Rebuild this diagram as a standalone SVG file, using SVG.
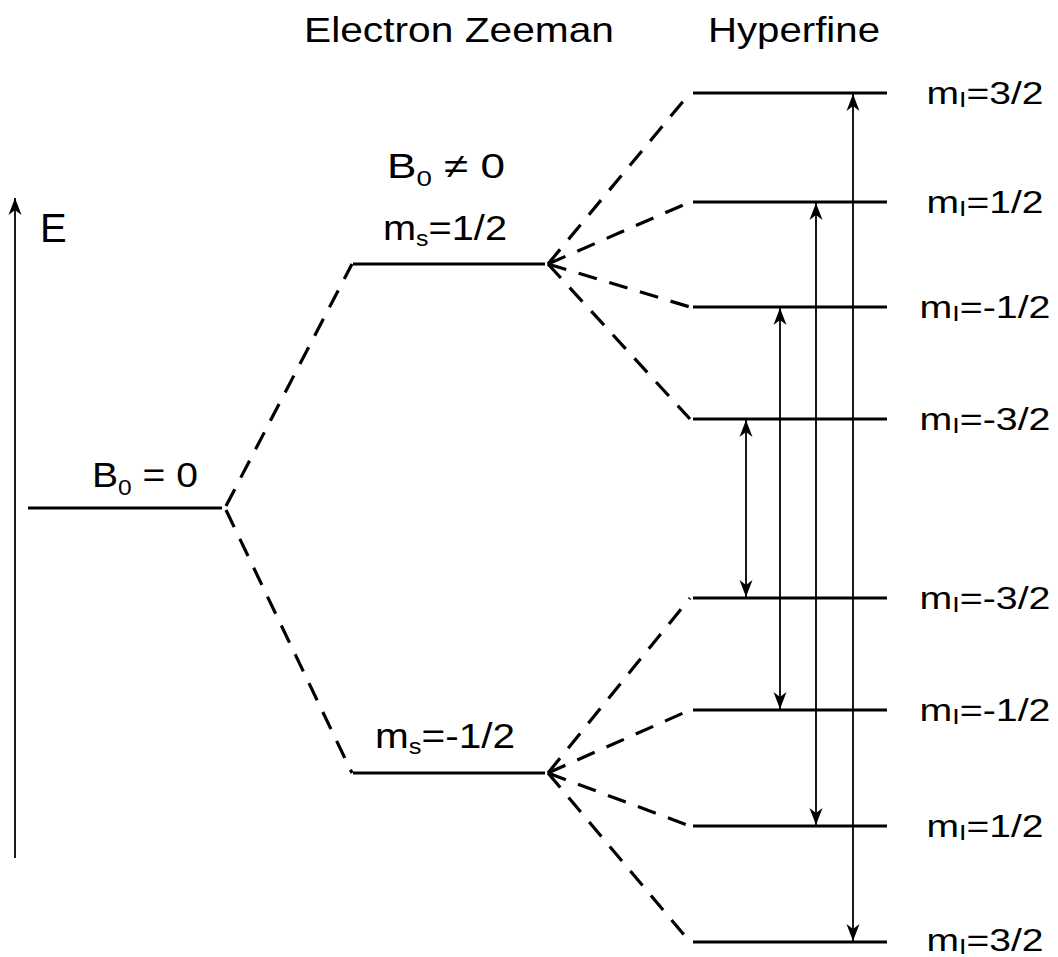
<svg xmlns="http://www.w3.org/2000/svg" width="1058" height="957" viewBox="0 0 1058 957">
<style>
text{font-family:"Liberation Sans",Arial,sans-serif;fill:#000;}
.t{font-size:35px;}
.l{font-size:32px;}
.sub{font-size:22px;}
.lvl{stroke:#000;stroke-width:3;fill:none;}
.dash{stroke:#000;stroke-width:3.2;fill:none;stroke-dasharray:19 13;}
.arr{stroke:#000;stroke-width:1.8;fill:none;}
</style>
<defs>
<marker id="ah" viewBox="-18 -8 20 16" markerWidth="20" markerHeight="16" refX="0" refY="0" orient="auto-start-reverse" markerUnits="userSpaceOnUse">
<path d="M0,0 L-17,-6.5 L-12,0 L-17,6.5 Z" fill="#000"/>
</marker>
</defs>
<rect width="1058" height="957" fill="#fff"/>

<g id="titles">
<text class="t" x="304" y="42" textLength="310" lengthAdjust="spacingAndGlyphs">Electron Zeeman</text>
<text class="t" x="708" y="42" textLength="172" lengthAdjust="spacingAndGlyphs">Hyperfine</text>
</g>

<g id="axis">
<line class="arr" x1="15" y1="858" x2="15" y2="198" marker-end="url(#ah)"/>
<text x="40" y="242" font-size="40">E</text>
</g>

<g id="b0-zero">
<line class="lvl" x1="28" y1="508" x2="222" y2="508"/>
<text class="t" x="92" y="487" textLength="106" lengthAdjust="spacingAndGlyphs">B<tspan class="sub" dy="8">0</tspan><tspan dy="-8"> = 0</tspan></text>
</g>

<g id="ms-up">
<text class="t" x="387" y="178" textLength="118" lengthAdjust="spacingAndGlyphs">B<tspan class="sub" dy="8">0</tspan><tspan dy="-8"> ≠ 0</tspan></text>
<line class="lvl" x1="353" y1="264" x2="545" y2="264"/>
<text class="t" x="383" y="240" textLength="124" lengthAdjust="spacingAndGlyphs">m<tspan class="sub" dy="6">s</tspan><tspan dy="-6">=1/2</tspan></text>
</g>

<g id="ms-down">
<line class="lvl" x1="353" y1="773" x2="545" y2="773"/>
<text class="t" x="375" y="748" textLength="140" lengthAdjust="spacingAndGlyphs">m<tspan class="sub" dy="6">s</tspan><tspan dy="-6">=-1/2</tspan></text>
</g>

<g id="hyperfine-up">
<line class="lvl" x1="693" y1="93" x2="887" y2="93"/>
<line class="lvl" x1="693" y1="202" x2="887" y2="202"/>
<line class="lvl" x1="693" y1="307" x2="887" y2="307"/>
<line class="lvl" x1="693" y1="419" x2="887" y2="419"/>
<text class="l" x="985" y="104" text-anchor="middle" textLength="117" lengthAdjust="spacingAndGlyphs">m<tspan class="sub" dy="3">I</tspan><tspan dy="-3">=3/2</tspan></text>
<text class="l" x="985" y="213" text-anchor="middle" textLength="117" lengthAdjust="spacingAndGlyphs">m<tspan class="sub" dy="3">I</tspan><tspan dy="-3">=1/2</tspan></text>
<text class="l" x="985" y="318" text-anchor="middle" textLength="131" lengthAdjust="spacingAndGlyphs">m<tspan class="sub" dy="3">I</tspan><tspan dy="-3">=-1/2</tspan></text>
<text class="l" x="985" y="430" text-anchor="middle" textLength="131" lengthAdjust="spacingAndGlyphs">m<tspan class="sub" dy="3">I</tspan><tspan dy="-3">=-3/2</tspan></text>
</g>

<g id="hyperfine-down">
<line class="lvl" x1="693" y1="598" x2="887" y2="598"/>
<line class="lvl" x1="693" y1="710" x2="887" y2="710"/>
<line class="lvl" x1="693" y1="826" x2="887" y2="826"/>
<line class="lvl" x1="693" y1="942" x2="887" y2="942"/>
<text class="l" x="985" y="609" text-anchor="middle" textLength="131" lengthAdjust="spacingAndGlyphs">m<tspan class="sub" dy="3">I</tspan><tspan dy="-3">=-3/2</tspan></text>
<text class="l" x="985" y="721" text-anchor="middle" textLength="131" lengthAdjust="spacingAndGlyphs">m<tspan class="sub" dy="3">I</tspan><tspan dy="-3">=-1/2</tspan></text>
<text class="l" x="985" y="837" text-anchor="middle" textLength="117" lengthAdjust="spacingAndGlyphs">m<tspan class="sub" dy="3">I</tspan><tspan dy="-3">=1/2</tspan></text>
<text class="l" x="985" y="951" text-anchor="middle" textLength="117" lengthAdjust="spacingAndGlyphs">m<tspan class="sub" dy="3">I</tspan><tspan dy="-3">=3/2</tspan></text>
</g>

<g id="connectors">
<line class="dash" x1="226" y1="506" x2="352" y2="264"/>
<line class="dash" x1="226" y1="510" x2="352" y2="773"/>
<line class="dash" x1="548" y1="264" x2="690" y2="93"/>
<line class="dash" x1="548" y1="264" x2="690" y2="202"/>
<line class="dash" x1="548" y1="264" x2="690" y2="307"/>
<line class="dash" x1="548" y1="264" x2="690" y2="419"/>
<line class="dash" x1="548" y1="773" x2="690" y2="598"/>
<line class="dash" x1="548" y1="773" x2="690" y2="710"/>
<line class="dash" x1="548" y1="773" x2="690" y2="826"/>
<line class="dash" x1="548" y1="773" x2="690" y2="942"/>
<line class="arr" x1="746" y1="420" x2="746" y2="597" marker-start="url(#ah)" marker-end="url(#ah)"/>
<line class="arr" x1="780" y1="308" x2="780" y2="709" marker-start="url(#ah)" marker-end="url(#ah)"/>
<line class="arr" x1="816" y1="203" x2="816" y2="825" marker-start="url(#ah)" marker-end="url(#ah)"/>
<line class="arr" x1="853" y1="94" x2="853" y2="941" marker-start="url(#ah)" marker-end="url(#ah)"/>
</g>
</svg>
